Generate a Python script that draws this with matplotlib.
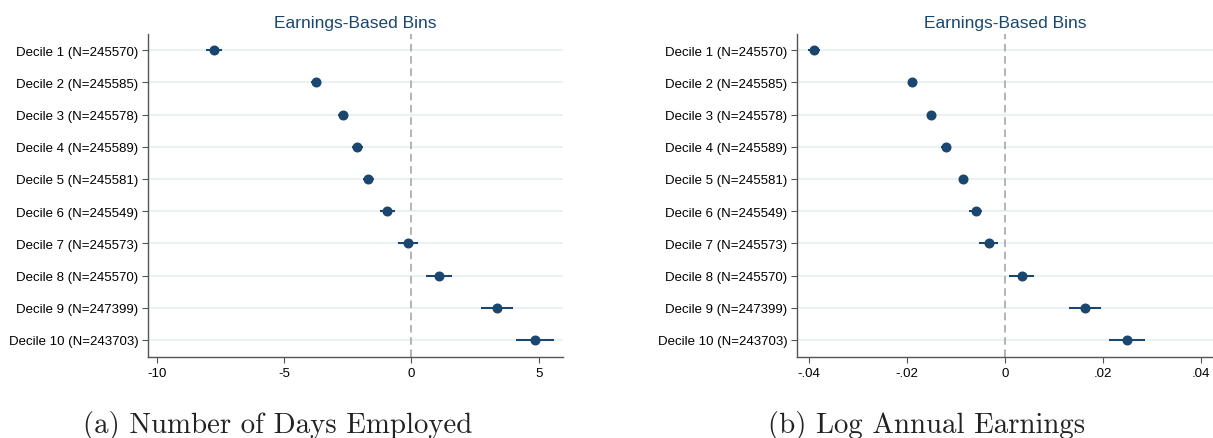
import matplotlib.pyplot as plt
import numpy as np

# Daten
labels = ['Decile 1 (N=245570)', 'Decile 2 (N=245585)', 'Decile 3 (N=245578)',
          'Decile 4 (N=245589)', 'Decile 5 (N=245581)', 'Decile 6 (N=245549)',
          'Decile 7 (N=245573)', 'Decile 8 (N=245570)', 'Decile 9 (N=247399)',
          'Decile 10 (N=243703)']

days_coef = [-7.77, -3.75, -2.70, -2.12, -1.69, -0.95, -0.15, 1.08, 3.36, 4.86]
days_err = [0.32, 0.18, 0.18, 0.2, 0.22, 0.3, 0.39, 0.5, 0.62, 0.75]

earn_coef = [-0.0389, -0.0190, -0.0151, -0.0121, -0.0085, -0.0060, -0.0033, 0.0034, 0.0163, 0.0249]
earn_err = [0.0013, 0.0008, 0.0008, 0.0009, 0.0009, 0.0014, 0.0019, 0.0025, 0.0032, 0.0037]

days_ticks = [-10, -5, 0, 5]
days_ticklabels = ['-10', '-5', '0', '5']
earn_ticks = [-0.04, -0.02, 0, 0.02, 0.04]
earn_ticklabels = ['-.04', '-.02', '0', '.02', '.04']

captions = ['(a) Number of Days Employed', '(b) Log Annual Earnings']

navy = '#1a476f'
grid_col = '#e6eff0'

plt.rcParams['font.family'] = ['Liberation Sans', 'DejaVu Sans']

fig = plt.figure(figsize=(12.13, 4.39), dpi=100)
ax_a = fig.add_axes([0.122, 0.1845, 0.342, 0.7355])
ax_b = fig.add_axes([0.657, 0.1845, 0.343, 0.7355])

panels = [
    (ax_a, days_coef, days_err, (-10.35, 5.95), days_ticks, days_ticklabels, captions[0], 0.229),
    (ax_b, earn_coef, earn_err, (-0.0424, 0.0424), earn_ticks, earn_ticklabels, captions[1], 0.764),
]

y = np.arange(1, len(labels) + 1)

for ax, coef, err, xlim, ticks, ticklabels, caption, cx in panels:
    for yy in y:
        ax.axhline(yy, color=grid_col, linewidth=1.2, zorder=0)
    ax.axvline(0, color='#a0a0a0', linestyle=(0, (5, 3)), linewidth=1.1, zorder=1)
    ax.errorbar(coef, y, xerr=err, fmt='o', color=navy, markersize=6.2,
                elinewidth=1.5, capsize=0, zorder=3)
    ax.set_xlim(*xlim)
    ax.set_ylim(10.53, 0.5)
    ax.set_yticks(y)
    ax.set_yticklabels(labels, fontsize=9.5)
    ax.set_xticks(ticks)
    ax.set_xticklabels(ticklabels, fontsize=9.5)
    ax.tick_params(axis='both', length=4, width=0.8, color='#555555', pad=3)
    for s in ['top', 'right']:
        ax.spines[s].set_visible(False)
    for s in ['left', 'bottom']:
        ax.spines[s].set_color('#555555')
        ax.spines[s].set_linewidth(1.0)
    ax.set_title('Earnings-Based Bins', color=navy, fontsize=12.5, pad=5)
    fig.text(cx, 0.0137, caption, family='cmr10', fontsize=20.8,
             ha='center', va='baseline', color='#222222')

plt.savefig('out.png', dpi=100)
